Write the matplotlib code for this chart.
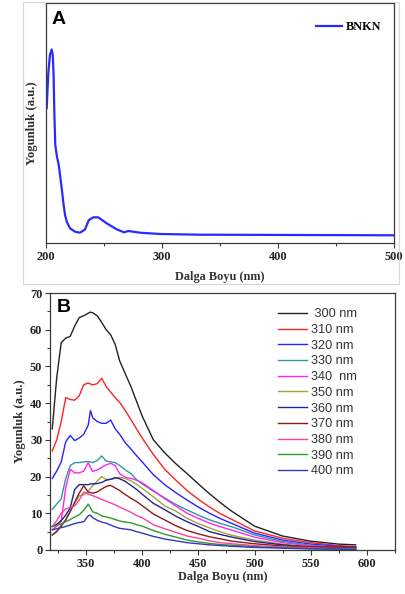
import matplotlib
matplotlib.use("Agg")
import matplotlib.pyplot as plt
import matplotlib.ticker as ticker
from matplotlib.patches import Rectangle

# ---- panel A: UV-vis absorption of BNKN ----
uv_wl = [200.6, 202, 203.4, 204.9, 205.8, 206.5, 207.2, 208, 209.5, 211, 213.5,
         215, 216.4, 218, 220.7, 225, 229.3, 233.6, 235.5, 237, 240.8, 245,
         252.3, 260.9, 267.2, 271, 281, 298.3, 332.8, 390, 450, 500]
uv_int = [135, 170, 188, 193.5, 188, 170, 130, 98, 86, 78, 55,
          40, 28, 21, 14.7, 11.3, 10.3, 13.5, 19, 23, 25.7, 25.7,
          19.7, 13.7, 10.7, 12, 10.3, 9, 8.3, 8.1, 7.9, 7.7]

# ---- panel B: emission spectra for different excitation wavelengths ----
wl = [320, 324, 328, 332, 336, 340, 344, 348, 352, 354, 356, 360, 364, 368, 372,
      376, 380, 385, 390, 395, 400, 410, 420, 430, 440, 450, 460, 470, 480,
      500, 525, 550, 575, 590]

em_300 = [33, 47, 56.5, 57.7, 58.2, 61, 63.3, 63.8, 64.5, 64.8, 64.6, 63.8, 62, 60, 58.6,
          56, 51.5, 48, 44.5, 40.5, 36.5, 30, 26.5, 23.5, 20.8, 18, 15.3, 12.8, 10.5,
          6.5, 3.8, 2.4, 1.6, 1.4]
em_310 = [27, 30, 35, 41.5, 41, 40.8, 42, 45, 45.5, 45.2, 45, 45.3, 46.8, 44.5, 43,
          41.5, 40.2, 38, 35.5, 33, 30.5, 26, 22, 19, 16.2, 13.8, 11.7, 9.8, 8.3,
          5.2, 3.2, 2, 1.2, 0.9]
em_320 = [19.5, 21.5, 24, 29.5, 31.2, 29.8, 30.5, 31.5, 34, 38, 36, 35, 34.5, 34.5, 35.4,
          33, 31.5, 29.2, 27.5, 25.7, 24, 20.5, 17.8, 15.6, 13.6, 11.7, 10, 8.5, 7.2,
          4.6, 2.7, 1.6, 1, 0.8]
em_330 = [11.1, 12.5, 14, 19.5, 23, 23.8, 23.8, 24, 24.1, 24, 23.8, 24.4, 25.6, 24.2, 24,
          23.8, 23, 21.8, 20.8, 19.2, 18, 16, 14.2, 12.4, 10.9, 9.5, 8.2, 7.2, 6.3,
          4.1, 2.3, 1.3, 0.8, 0.6]
em_340 = [5.5, 6.5, 7.8, 17, 22, 21, 21, 21.5, 23.8, 22.5, 21.4, 21.8, 22.5, 23.2, 23.6,
          23, 20.8, 19.8, 19.5, 19, 18.3, 16.2, 14, 12, 10, 8.6, 7.3, 6.3, 5.4,
          3.5, 2, 1.1, 0.7, 0.5]
em_350 = [4.1, 5.2, 6.8, 8.2, 10.5, 12.8, 14.8, 15, 16, 16.8, 17.5, 18.8, 20, 19.2, 19.2,
          19.5, 19.8, 19.5, 18.8, 17.9, 16.8, 14.5, 12, 10.6, 8.6, 7.2, 6, 4.9, 4,
          2.7, 1.6, 0.9, 0.5, 0.4]
em_360 = [6.4, 7, 8, 9.5, 11.5, 16.5, 17.8, 17.8, 17.8, 18, 18, 18.1, 18.4, 19, 19.3,
          19.7, 19.4, 18.7, 17.6, 16.5, 15.2, 12.7, 11, 9.2, 7.7, 6.4, 5, 4.2, 3.5,
          2.3, 1.4, 0.8, 0.6, 0.5]
em_370 = [4.1, 5, 6.5, 8.2, 10.5, 13, 15.5, 17.5, 15.8, 15.6, 15.5, 15.8, 16.6, 17.3, 17.6,
          16.9, 16.2, 15.1, 14.1, 13.2, 12.1, 9.8, 8.2, 6.6, 5.3, 4.4, 3.6, 3, 2.4,
          1.7, 1.1, 0.9, 0.8, 0.8]
em_380 = [6.4, 8, 10, 11.2, 11.6, 12, 13.6, 15.8, 15.2, 15, 14.8, 14.3, 13.8, 13.3, 12.8,
          12.3, 11.7, 11, 10.3, 9.4, 8.8, 6.9, 5.8, 4.8, 3.8, 3.2, 2.5, 2, 1.7,
          1.2, 0.8, 0.6, 0.4, 0.4]
em_390 = [6.4, 6.7, 7.1, 7.7, 8.3, 9, 9.6, 10.8, 12.5, 11.5, 10.4, 10, 9.3, 9, 8.7,
          8.3, 7.9, 7.6, 7.4, 6.9, 6.5, 5.3, 4.3, 3.5, 2.7, 2.2, 1.8, 1.5, 1.3,
          0.9, 0.6, 0.4, 0.3, 0.3]
em_400 = [5.5, 5.8, 6.1, 6.4, 6.8, 7.2, 7.5, 7.7, 9.3, 9.5, 8.8, 8.1, 7.6, 7.3, 6.8,
          6.3, 5.9, 5.7, 5.5, 5, 4.6, 3.7, 3, 2.5, 2, 1.7, 1.4, 1.2, 1,
          0.7, 0.5, 0.3, 0.2, 0.2]

labels = [" 300 nm", "310 nm", "320 nm", "330 nm", "340  nm", "350 nm",
          "360 nm", "370 nm", "380 nm", "390 nm", "400 nm"]
series = [em_300, em_310, em_320, em_330, em_340, em_350,
          em_360, em_370, em_380, em_390, em_400]
colors = ["#222222", "#ff2222", "#2424ff", "#2e9a9a", "#ff22ff", "#a3a33a",
          "#23238f", "#8b1c1c", "#ff3fa0", "#2f9a2f", "#3535c0"]

SERIF = ["Liberation Serif", "DejaVu Serif"]
SANS = ["Liberation Sans", "DejaVu Sans"]
SPINE = "#3a3a3a"

fig = plt.figure(figsize=(4.06, 5.94), dpi=100)

# faint frame around panel A, as in the pasted figure
fig.patches.append(Rectangle((23 / 406, 1 - 284 / 594), 376 / 406, 282 / 594,
                             transform=fig.transFigure, fill=False,
                             edgecolor="#d8d8d8", lw=0.8))


def style_axes(ax):
    for s in ax.spines.values():
        s.set_color(SPINE)
        s.set_linewidth(0.9)
    ax.tick_params(which="major", direction="out", length=3.5, width=0.8,
                   color=SPINE, pad=2)
    ax.tick_params(which="minor", direction="out", length=2, width=0.8, color=SPINE)
    for lab in ax.get_xticklabels() + ax.get_yticklabels():
        lab.set_fontfamily(SERIF)
        lab.set_fontweight("bold")
        lab.set_fontsize(8.8)
        lab.set_color("#222222")


# ---- A ----
axA = fig.add_axes([46 / 406, 1 - 243 / 594, 348 / 406, 240 / 594])
axA.plot(uv_wl, uv_int, color="#2a2aff", lw=1.6, label="BNKN")
axA.set_xlim(200, 500)
axA.set_ylim(0, 240)
axA.xaxis.set_major_locator(ticker.MultipleLocator(100))
axA.xaxis.set_minor_locator(ticker.MultipleLocator(50))
axA.set_yticks([])
style_axes(axA)
axA.set_xlabel("Dalga Boyu (nm)", family=SERIF, weight="bold", fontsize=8.8,
               labelpad=6, color="#333333")
axA.set_ylabel("Yogunluk (a.u.)", family=SERIF, weight="bold", fontsize=9.2,
               labelpad=6, color="#333333")
axA.text(0.017, 0.968, "A", transform=axA.transAxes, family=SANS,
         weight="bold", fontsize=14, va="top", ha="left")
axA.legend(loc="upper left", bbox_to_anchor=(0.75, 0.96), frameon=False,
           handlelength=2.2, handletextpad=0.3, borderpad=0.2,
           prop={"family": SERIF, "weight": "bold", "size": 8.8})

# ---- B ----
axB = fig.add_axes([50 / 406, 1 - 550 / 594, 345 / 406, 257 / 594])
for y, c, lab in zip(series, colors, labels):
    axB.plot(wl, y, color=c, lw=1.0, label=lab)
axB.set_xlim(318, 625)
axB.set_ylim(0, 70)
axB.xaxis.set_major_locator(ticker.MultipleLocator(50))
axB.xaxis.set_minor_locator(ticker.MultipleLocator(25))
axB.yaxis.set_major_locator(ticker.MultipleLocator(10))
axB.yaxis.set_minor_locator(ticker.MultipleLocator(5))
style_axes(axB)
axB.set_xlabel("Dalga Boyu (nm)", family=SERIF, weight="bold", fontsize=8.8,
               labelpad=1, color="#333333")
axB.set_ylabel("Yogunluk (a.u.)", family=SERIF, weight="bold", fontsize=9.2,
               labelpad=3, color="#333333")
axB.text(0.02, 0.975, "B", transform=axB.transAxes, family=SANS,
         weight="bold", fontsize=14, va="top", ha="left")
leg = axB.legend(loc="upper left", bbox_to_anchor=(0.635, 0.975), frameon=False,
                 handlelength=2.3, handletextpad=0.25, labelspacing=0.29,
                 borderpad=0.2, prop={"family": SANS, "size": 9.2})
for t in leg.get_texts():
    t.set_color("#333333")

fig.savefig("out.png", dpi=100)
